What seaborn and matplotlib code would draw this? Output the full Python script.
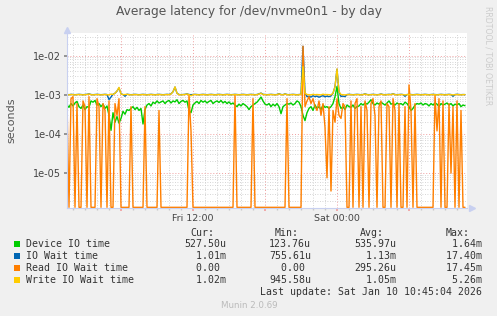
import numpy as np
import pandas as pd
import matplotlib
matplotlib.use("Agg")
import matplotlib.pyplot as plt
import matplotlib.dates as mdates
import matplotlib.ticker as mticker
from matplotlib.patches import Rectangle
import seaborn as sns

# ---------------- data (milliseconds, one sample every 10 minutes) ----------------
start_time = "2026-01-09 01:30"
series_names = ["Device IO time", "IO Wait time", "Read IO Wait time", "Write IO Wait time"]
series_colors = ["#00CC00", "#0066B3", "#FF7F00", "#FFCC00"]

device_io = [
    0.55, 0.48, 0.60, 0.52, 0.62, 0.68, 0.50, 0.45, 0.55, 0.42,
    0.50, 0.48, 0.70, 0.65, 0.72, 0.55, 0.60, 0.50, 0.58, 0.45,
    0.52, 0.30, 0.124, 0.35, 0.20, 0.28, 0.19, 0.25, 0.38, 0.32,
    0.42, 0.40, 0.45, 0.50, 0.42, 0.48, 0.40, 0.45, 0.18, 0.42,
    0.55, 0.60, 0.52, 0.65, 0.60, 0.70, 0.62, 0.66, 0.70, 0.60,
    0.68, 0.72, 0.62, 0.70, 0.66, 0.75, 0.60, 0.68, 0.72, 0.65,
    0.70, 0.40, 0.35, 0.55, 0.62, 0.68, 0.60, 0.72, 0.65, 0.70,
    0.62, 0.68, 0.72, 0.60, 0.66, 0.70, 0.64, 0.72, 0.62, 0.68,
    0.60, 0.66, 0.58, 0.62, 0.55, 0.50, 0.58, 0.52, 0.60, 0.55,
    0.50, 0.42, 0.50, 0.55, 0.60, 0.65, 0.75, 0.88, 0.70, 0.58,
    0.55, 0.60, 0.50, 0.58, 0.52, 0.60, 0.50, 0.33, 0.50, 0.55,
    0.60, 0.58, 0.62, 0.55, 0.60, 0.70, 0.65, 0.50, 0.30, 0.22,
    0.35, 0.45, 0.50, 0.40, 0.55, 0.45, 0.50, 0.42, 0.55, 0.48,
    0.50, 0.45, 0.50, 0.60, 0.90, 1.64, 0.60, 0.45, 0.50, 0.42,
    0.55, 0.50, 0.48, 0.55, 0.45, 0.50, 0.52, 0.60, 0.55, 0.62,
    0.58, 0.65, 0.75, 0.60, 0.55, 0.62, 0.58, 0.65, 0.60, 0.55,
    0.62, 0.70, 0.58, 0.60, 0.55, 0.62, 0.58, 0.60, 0.55, 0.65,
    0.60, 0.50, 0.40, 0.45, 0.55, 0.60, 0.58, 0.62, 0.55, 0.60,
    0.58, 0.52, 0.60, 0.55, 0.62, 0.58, 0.50, 0.60, 0.55, 0.58,
    0.62, 0.55, 0.60, 0.52, 0.58, 0.55, 0.60, 0.50, 0.55, 0.5275,
]

io_wait = [
    1.02, 1.01, 1.03, 1.02, 1.01, 1.02, 1.03, 1.02, 1.01, 1.02,
    1.03, 1.06, 1.02, 1.01, 1.02, 1.03, 1.02, 1.01, 1.02, 1.03,
    1.02, 0.76, 0.88, 1.03, 1.10, 1.25, 1.50, 1.06, 1.02, 0.92,
    1.04, 1.02, 1.01, 1.02, 1.03, 1.02, 1.01, 1.02, 1.03, 1.02,
    1.01, 1.02, 1.03, 1.02, 1.01, 1.02, 1.03, 1.02, 1.01, 1.02,
    1.03, 1.02, 1.06, 1.20, 1.58, 1.10, 1.02, 1.01, 1.02, 1.03,
    1.06, 1.02, 1.01, 1.02, 1.03, 1.02, 1.01, 1.02, 1.03, 1.02,
    1.01, 1.02, 1.03, 1.02, 1.01, 1.02, 1.03, 1.02, 1.01, 1.02,
    1.03, 1.02, 1.01, 1.02, 1.03, 1.02, 1.01, 1.02, 1.03, 1.02,
    1.01, 1.02, 1.03, 1.02, 1.01, 1.02, 1.06, 1.11, 1.03, 1.02,
    1.01, 1.02, 1.03, 1.02, 1.01, 1.02, 1.07, 1.02, 1.01, 1.06,
    1.02, 1.01, 1.02, 1.03, 1.02, 1.01, 1.02, 1.03, 17.40, 1.12,
    0.90, 0.92, 0.88, 0.95, 0.90, 0.93, 0.87, 0.92, 0.95, 0.89,
    0.93, 0.90, 0.94, 1.10, 1.62, 4.50, 1.20, 0.91, 0.93, 0.90,
    1.02, 1.03, 1.02, 1.01, 1.02, 1.03, 1.02, 1.01, 1.02, 1.06,
    1.02, 1.01, 1.02, 1.03, 1.02, 1.01, 1.02, 1.05, 1.02, 1.01,
    1.02, 1.03, 1.02, 1.07, 1.02, 1.01, 1.02, 1.03, 1.02, 0.92,
    1.02, 1.03, 1.02, 1.01, 1.02, 1.03, 1.02, 1.01, 1.02, 1.03,
    1.02, 1.01, 1.02, 1.03, 1.02, 1.01, 1.02, 1.03, 1.02, 1.01,
    1.02, 1.03, 1.02, 0.92, 1.02, 1.03, 1.02, 1.01, 1.02, 1.01,
]

read_io_wait = [
    0.7, 0, 0.8, 0.9, 0, 0.6, 0, 0, 0.7, 0.5,
    0, 0.9, 0, 0, 0, 0.8, 0.5, 0, 0.6, 0.4,
    0, 0.7, 0, 0, 0.6, 0.3, 0.8, 0, 0, 0,
    0, 0, 0.5, 0, 0, 0, 0, 0, 0, 0.5,
    0, 0, 0, 0, 0, 0, 0.4, 0, 0, 0,
    0, 0, 0, 0, 0, 0, 0, 0, 0, 0,
    0, 1.0, 0.12, 0, 0, 0, 0, 0, 0, 0,
    0, 0, 0, 0, 0, 0, 0, 0, 0, 0,
    0, 0, 0, 0, 1.0, 0, 0, 0, 0, 0,
    0, 0, 0, 0.8, 0, 0, 0, 0, 0, 0,
    0, 0, 0, 0, 0, 0, 0, 0, 0, 0,
    0.8, 0, 0, 0, 0, 0, 0, 0, 17.45, 0.5,
    0.7, 0.9, 0.6, 0.8, 0.5, 0.4, 0.7, 0.3, 0.6, 0.15,
    0.0076, 0.5, 0.0035, 0.4, 0.2, 0.8, 0.3, 0.25, 0.6, 0.5,
    0, 0, 0.7, 0, 0.6, 0.8, 0, 0.5, 0, 0.7,
    0.4, 0, 0.6, 0.8, 0.3, 0, 0.5, 0.7, 0, 0,
    0.6, 0.5, 0, 0.8, 0.4, 0, 0.6, 0, 0, 0.5,
    0, 1.8, 0.4, 0, 0.6, 0, 0, 0, 0, 0,
    0, 0, 0, 0, 1.0, 0.12, 0.8, 0, 0.7, 0,
    0, 0.6, 0.01, 0.5, 0, 0.7, 0, 0.4, 0, 0,
]

write_io_wait = [
    1.01, 1.00, 1.02, 1.01, 1.00, 1.01, 1.02, 1.01, 1.00, 1.01,
    1.02, 1.05, 1.01, 1.00, 1.01, 1.02, 1.01, 1.00, 1.01, 1.02,
    1.01, 1.00, 1.05, 1.02, 1.10, 1.25, 1.55, 1.05, 1.01, 1.02,
    1.03, 1.01, 1.00, 1.01, 1.02, 1.01, 1.00, 1.01, 1.02, 1.01,
    1.00, 1.01, 1.02, 1.01, 1.00, 1.01, 1.02, 1.01, 1.00, 1.01,
    1.02, 1.01, 1.05, 1.20, 1.60, 1.10, 1.01, 1.00, 1.01, 1.02,
    1.05, 1.01, 0.946, 1.01, 1.02, 1.01, 1.00, 1.01, 1.02, 1.01,
    1.00, 1.01, 1.02, 1.01, 1.00, 1.01, 1.02, 1.01, 1.00, 1.01,
    1.02, 1.01, 1.00, 1.01, 1.02, 1.01, 1.00, 1.01, 1.02, 1.01,
    1.00, 1.01, 1.02, 1.01, 1.00, 1.01, 1.05, 1.10, 1.02, 1.01,
    1.00, 1.01, 1.02, 1.01, 1.00, 1.01, 1.06, 1.01, 1.00, 1.05,
    1.01, 1.00, 1.01, 1.02, 1.01, 1.00, 1.01, 1.02, 5.26, 1.10,
    1.02, 1.01, 1.00, 1.03, 1.01, 1.02, 1.01, 1.00, 1.04, 1.01,
    1.02, 1.01, 1.00, 1.10, 1.60, 4.60, 1.20, 1.02, 1.01, 1.00,
    1.01, 1.02, 1.01, 1.00, 1.01, 1.02, 1.01, 1.00, 1.01, 1.05,
    1.01, 1.00, 1.01, 1.02, 1.01, 1.00, 1.01, 1.04, 1.01, 1.00,
    1.01, 1.02, 1.01, 1.06, 1.01, 1.00, 1.01, 1.02, 1.01, 1.00,
    1.01, 1.02, 1.01, 1.00, 1.01, 1.02, 1.01, 1.00, 1.01, 1.02,
    1.01, 1.00, 1.01, 1.02, 1.01, 1.00, 1.01, 1.02, 1.01, 1.00,
    1.01, 1.02, 1.01, 1.00, 1.01, 1.02, 1.01, 1.00, 1.01, 1.02,
]

legend_cur = ["527.50u", "  1.01m", "  0.00 ", "  1.02m"]
legend_min = ["123.76u", "755.61u", "  0.00 ", "945.58u"]
legend_avg = ["535.97u", "  1.13m", "295.26u", "  1.05m"]
legend_max = ["  1.64m", " 17.40m", " 17.45m", "  5.26m"]
y_ticks = [1e-5, 1e-4, 1e-3, 1e-2]
x_label_hours = [0, 12]

# ---------------- build frame ----------------
times = pd.date_range(start_time, periods=len(device_io), freq="10min")
y_bottom, y_top = 1.29e-6, 3.8e-2
frames = []
for name, vals in zip(series_names, [device_io, io_wait, read_io_wait, write_io_wait]):
    v = np.array(vals, dtype=float) / 1000.0
    frames.append(pd.DataFrame({"time": times, "value": np.maximum(v, y_bottom * 1.04), "series": name}))
df = pd.concat(frames, ignore_index=True)

# ---------------- figure ----------------
sns.set_theme(style="white")
plt.rcParams["font.family"] = ["DejaVu Sans"]
W, H = 497, 316
fig = plt.figure(figsize=(W / 100, H / 100), dpi=100, facecolor="#F0F0F0")
fx = lambda px: px / W
fy = lambda py: 1 - py / H
ax = fig.add_axes([fx(67), fy(208), fx(400), 175 / H])
ax.set_facecolor("white")

sns.lineplot(data=df, x="time", y="value", hue="series", hue_order=series_names,
             palette=dict(zip(series_names, series_colors)), estimator=None,
             legend=False, linewidth=1.0, ax=ax)

ax.set_yscale("log")
ax.set_ylim(y_bottom, y_top)
x0 = pd.Timestamp(start_time)
ax.set_xlim(x0, x0 + pd.Timedelta(minutes=5 * 400))

ax.yaxis.set_major_locator(mticker.FixedLocator(y_ticks))
ax.yaxis.set_major_formatter(mticker.FuncFormatter(lambda v, p: f"{v:.0e}"))
ax.yaxis.set_minor_locator(mticker.LogLocator(base=10, subs=np.arange(2, 10)))
ax.yaxis.set_minor_formatter(mticker.NullFormatter())

ax.xaxis.set_major_locator(mdates.HourLocator(byhour=[0, 6, 12, 18]))
ax.xaxis.set_minor_locator(mdates.HourLocator())
def xfmt(v, p):
    d = mdates.num2date(v)
    return d.strftime("%a %H:%M") if d.hour in x_label_hours else ""
ax.xaxis.set_major_formatter(mticker.FuncFormatter(xfmt))

ax.grid(True, which="minor", color="#C8C8C8", linestyle=(0, (1, 2)), linewidth=0.6)
ax.grid(True, which="major", color="#F0A0A0", linestyle=(0, (1, 2)), linewidth=0.7)
ax.set_axisbelow(True)

for s in ["top", "right"]:
    ax.spines[s].set_visible(False)
for s in ["left", "bottom"]:
    ax.spines[s].set_color("#C8D0F0")
    ax.spines[s].set_linewidth(0.8)
ax.plot([0], [1.02], marker="^", color="#C8D0F0", markersize=4, transform=ax.transAxes, clip_on=False)
ax.plot([1.012], [0], marker=">", color="#C8D0F0", markersize=4, transform=ax.transAxes, clip_on=False)

ax.tick_params(axis="y", which="major", length=2, color="#888888", labelsize=7, labelcolor="#444444", pad=2, left=True)
ax.tick_params(axis="y", which="minor", length=0)
ax.tick_params(axis="x", which="major", length=2, color="#F0A0A0", labelsize=6.8, labelcolor="#444444", pad=2, bottom=True)
ax.tick_params(axis="x", which="minor", length=1.5, color="#C8C8C8", bottom=True)
ax.set_xlabel("")
ax.set_ylabel("")

# ---------------- texts ----------------
fig.text(0.5, fy(12), "Average latency for /dev/nvme0n1 - by day", ha="center", va="center",
         fontsize=8.8, color="#555555")
fig.text(fx(11), fy(120), "seconds", rotation=90, ha="center", va="center", fontsize=8, color="#555555")
fig.text(fx(488), fy(56), "RRDTOOL / TOBI OETIKER", rotation=-90, ha="center", va="center",
         fontsize=5.6, color="#CCCCCC")

mono = dict(family="DejaVu Sans Mono", fontsize=7.1, color="#333333", va="center")
cw = 6.0
col_x = [184, 269, 354, 440]
for cx, hdr in zip(col_x, ["Cur:", "Min:", "Avg:", "Max:"]):
    fig.text(fx(cx + cw), fy(233), hdr, ha="left", **mono)
row_y = [244, 256, 268, 280]
for i, (name, col) in enumerate(zip(series_names, series_colors)):
    yy = row_y[i]
    fig.patches.append(Rectangle((fx(14), fy(yy + 3)), 6 / W, 6 / H, transform=fig.transFigure,
                                 facecolor=col, edgecolor="none"))
    fig.text(fx(26), fy(yy), name, ha="left", **mono)
    for cx, vals in zip(col_x, [legend_cur, legend_min, legend_avg, legend_max]):
        fig.text(fx(cx), fy(yy), vals[i], ha="left", **mono)
fig.text(fx(482), fy(292), "Last update: Sat Jan 10 10:45:04 2026", ha="right", **mono)
fig.text(fx(249), fy(305), "Munin 2.0.69", ha="center", va="center", fontsize=6.3, color="#BBBBBB")

fig.savefig("out.png", dpi=100, facecolor=fig.get_facecolor())
